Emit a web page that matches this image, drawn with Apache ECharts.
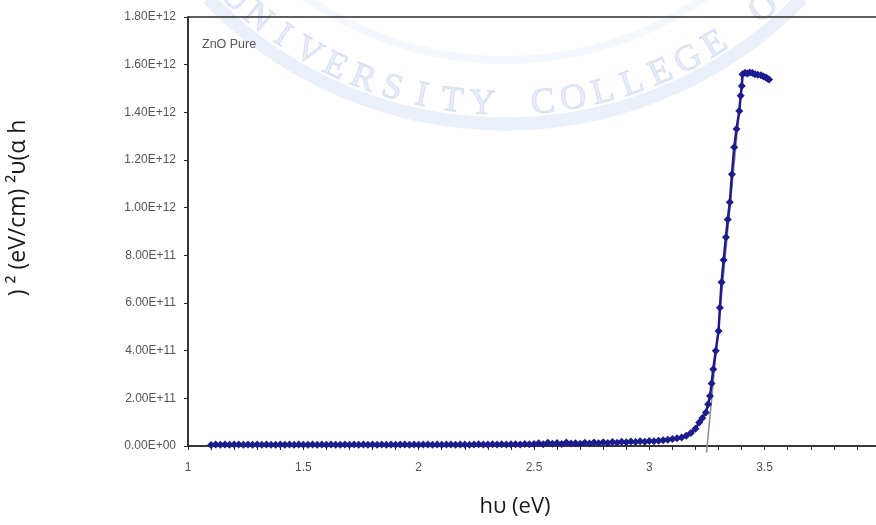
<!DOCTYPE html>
<html><head><meta charset="utf-8">
<script src="https://cdn.jsdelivr.net/npm/echarts@6/dist/echarts.min.js"></script>
<style>html,body{margin:0;padding:0;background:#fff}#c{width:876px;height:525px}</style>
</head><body><div id="c"></div>
<script>
// photon energy hν (eV)
const hvValues = [
  1.10,1.12,1.14,1.16,1.18,1.20,1.22,1.24,1.26,1.28,
  1.30,1.32,1.34,1.36,1.38,1.40,1.42,1.44,1.46,1.48,
  1.50,1.52,1.54,1.56,1.58,1.60,1.62,1.64,1.66,1.68,
  1.70,1.72,1.74,1.76,1.78,1.80,1.82,1.84,1.86,1.88,
  1.90,1.92,1.94,1.96,1.98,2.00,2.02,2.04,2.06,2.08,
  2.10,2.12,2.14,2.16,2.18,2.20,2.22,2.24,2.26,2.28,
  2.30,2.32,2.34,2.36,2.38,2.40,2.42,2.44,2.46,2.48,
  2.50,2.52,2.54,2.56,2.58,2.60,2.62,2.64,2.66,2.68,
  2.70,2.72,2.74,2.76,2.78,2.80,2.82,2.84,2.86,2.88,
  2.90,2.92,2.94,2.96,2.98,3.00,
  3.02,3.04,3.06,3.08,3.10,3.12,3.14,3.16,3.18,3.20,
  3.216,3.23,3.245,3.255,3.263,3.270,3.277,3.288,3.300,3.306,
  3.313,3.322,3.332,3.340,3.349,3.358,3.368,3.378,3.390,3.396,
  3.401,3.404,
  3.415,3.425,3.436,3.447,3.458,3.470,3.484,3.495,3.505,3.512,3.519
];
// (αhν)² in units of 1E+12 (eV/cm)²
const alphaValues = [
  0.004,0.006,0.005,0.006,0.005,0.006,0.006,0.005,0.006,0.005,
  0.006,0.005,0.006,0.005,0.005,0.006,0.005,0.006,0.005,0.006,
  0.005,0.005,0.006,0.005,0.006,0.005,0.006,0.005,0.005,0.006,
  0.005,0.006,0.005,0.006,0.005,0.006,0.005,0.006,0.005,0.006,
  0.005,0.006,0.006,0.005,0.006,0.005,0.006,0.006,0.005,0.006,
  0.005,0.006,0.006,0.005,0.006,0.006,0.005,0.006,0.007,0.006,
  0.006,0.007,0.006,0.007,0.006,0.007,0.007,0.006,0.008,0.007,
  0.008,0.012,0.007,0.014,0.009,0.013,0.008,0.015,0.010,0.012,
  0.009,0.014,0.011,0.015,0.012,0.016,0.013,0.017,0.014,0.018,
  0.016,0.019,0.017,0.020,0.018,0.021,
  0.020,0.022,0.024,0.026,0.029,0.032,0.036,0.043,0.055,0.072,
  0.099,0.118,0.141,0.175,0.210,0.262,0.322,0.400,0.483,0.580,
  0.687,0.780,0.876,0.950,1.023,1.140,1.253,1.330,1.406,1.470,
  1.511,1.560,
  1.566,1.563,1.567,1.565,1.560,1.558,1.556,1.550,1.546,1.542,1.538
];
// linear fit (tangent) used to extrapolate the band gap
const tangentHv = [3.248, 3.403];
const tangentAlpha = [-0.027, 1.54];

const xTickLabels = ['1','1.5','2','2.5','3','3.5','4'];
const yTickLabels = ['0.00E+00','2.00E+11','4.00E+11','6.00E+11','8.00E+11',
  '1.00E+12','1.20E+12','1.40E+12','1.60E+12','1.80E+12'];

const sampleName = 'ZnO Pure';
const xTitle = 'hυ (eV)';
const yTitle = ') ² (eV/cm) ²υ(α h';
const watermark = 'UNIVERSITY COLLEGE OF';

const chart = echarts.init(document.getElementById('c'), null, {renderer:'canvas'});

// faint watermark (logo text along an arc)
const wm = [];
const wcx = 505, wcy = -290, wr = 395, wStart = -43.2, wStep = 4.43;
for (let i = 0; i < watermark.length; i++) {
  const ch = watermark[i];
  if (ch === ' ') continue;
  const th = (wStart + i * wStep) * Math.PI / 180;
  wm.push({
    type: 'text', z: -10, silent: true,
    x: wcx + wr * Math.sin(th), y: wcy + wr * Math.cos(th), rotation: th,
    style: { text: ch, font: '36px "Liberation Serif"', fill: 'rgba(205,218,242,0.5)',
      stroke: 'rgba(175,196,234,0.45)', lineWidth: 1, align: 'center', verticalAlign: 'middle' }
  });
}
wm.push({ type: 'arc', z: -11, silent: true,
  shape: { cx: wcx, cy: wcy, r: 414, startAngle: Math.PI/2 - 0.8, endAngle: Math.PI/2 + 0.8 },
  style: { stroke: 'rgba(215,227,246,0.55)', lineWidth: 13, fill: null } });
wm.push({ type: 'arc', z: -11, silent: true,
  shape: { cx: wcx, cy: wcy, r: 350, startAngle: Math.PI/2 - 0.7, endAngle: Math.PI/2 + 0.7 },
  style: { stroke: 'rgba(220,230,247,0.3)', lineWidth: 8, fill: null } });

const axisCol = '#2a2a2a';
const option = {
  animation: false,
  backgroundColor: '#ffffff',
  grid: { left: 188, right: -4, top: 17, bottom: 79, show: true, borderColor: axisCol, borderWidth: 1.5,
    backgroundColor: 'transparent', containLabel: false, outerBoundsMode: 'none' },
  xAxis: {
    type: 'value', min: 1, max: 4, interval: 0.1,
    axisLine: { show: true, onZero: false, lineStyle: { color: axisCol, width: 1.5 } },
    axisTick: { show: true, interval: 0, length: 4, lineStyle: { color: axisCol, width: 1 } },
    splitLine: { show: false },
    axisLabel: {
      interval: 0, margin: 16, color: '#555', fontSize: 12, fontFamily: '"Liberation Sans", Arial',
      hideOverlap: false,
      formatter: function (v) {
        const k = (v - 1) / 0.5;
        const r = Math.round(k);
        return Math.abs(k - r) < 1e-6 ? xTickLabels[r] : '';
      }
    }
  },
  yAxis: {
    type: 'value', min: 0, max: 1.8, interval: 0.2,
    axisLine: { show: true, lineStyle: { color: axisCol, width: 1.5 } },
    axisTick: { show: true, length: 4, lineStyle: { color: axisCol, width: 1 } },
    splitLine: { show: false },
    axisLabel: {
      margin: 12, color: '#555', fontSize: 12, fontFamily: '"Liberation Sans", Arial',
      formatter: function (v) { return yTickLabels[Math.round(v / 0.2)]; }
    }
  },
  graphic: wm.concat([
    { type: 'text', x: 202, y: 45, z: 10,
      style: { text: sampleName, font: '12.5px "Liberation Sans", Arial', fill: '#555', align: 'left', verticalAlign: 'middle' } },
    { type: 'text', x: 515, y: 507, z: 10,
      style: { text: xTitle, font: '22px "Open Sans"', fill: '#1a1a1a', align: 'center', verticalAlign: 'middle' } },
    { type: 'text', x: 18, y: 208, z: 10, rotation: Math.PI / 2,
      style: { text: yTitle, font: '23px "Open Sans"', fill: '#1a1a1a', align: 'center', verticalAlign: 'middle' } }
  ]),
  series: [
    {
      name: 'tangent', type: 'line', clip: false, z: 2,
      data: tangentHv.map((x, i) => [x, tangentAlpha[i]]),
      symbol: 'none', lineStyle: { color: '#8c8c8c', width: 1.5 }
    },
    {
      name: sampleName, type: 'line', z: 3,
      data: hvValues.map((x, i) => [x, alphaValues[i]]),
      symbol: 'diamond', symbolSize: 8,
      itemStyle: { color: '#1c1c8e' },
      lineStyle: { color: '#1c1c8e', width: 2.5 }
    }
  ]
};
chart.setOption(option);
</script>
</body></html>
